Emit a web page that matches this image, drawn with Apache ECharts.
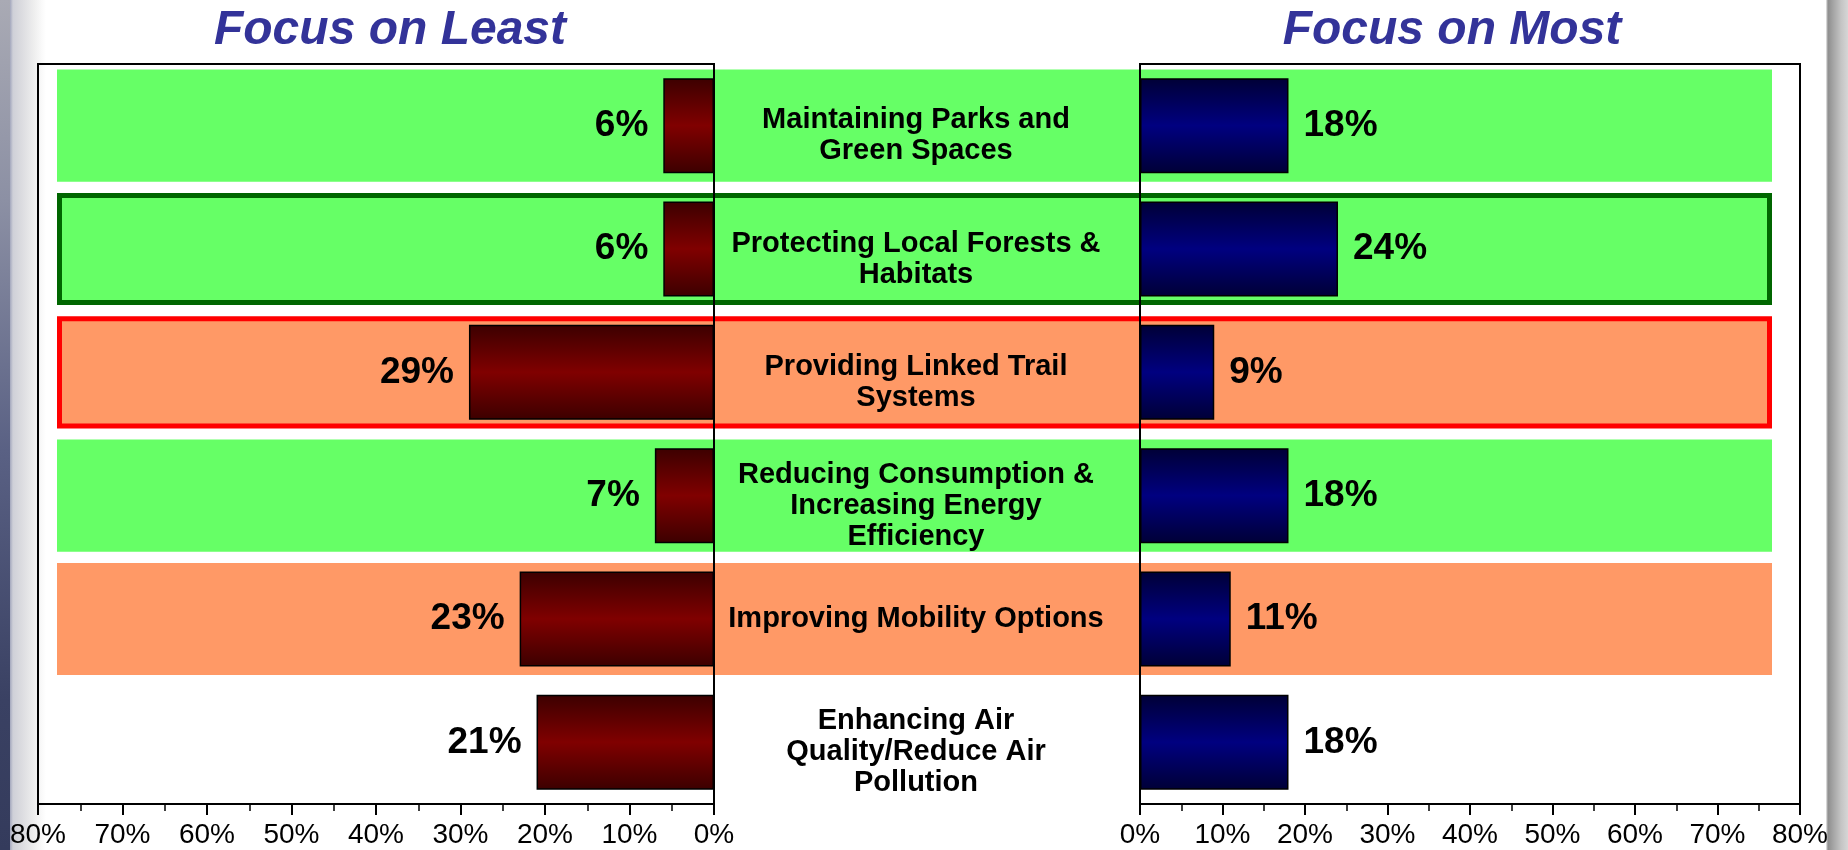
<!DOCTYPE html>
<html>
<head>
<meta charset="utf-8">
<script src="https://cdn.jsdelivr.net/npm/echarts@6/dist/echarts.min.js"></script>
<style>
  html, body { margin: 0; padding: 0; background: #ffffff; }
  #wrap { position: relative; width: 1848px; height: 850px; overflow: hidden; background: #ffffff; }
  #edgeDark { position: absolute; left: 0; top: 0; width: 10px; height: 850px;
    background: linear-gradient(to bottom, #a9aab4 0px, #8c90a4 200px, #5a6184 450px, #3a4163 700px, #343b5c 850px); }
  #edgeLight { position: absolute; left: 10px; top: 0; width: 36px; height: 850px;
    background: linear-gradient(to right, #a3a7bd 0px, #cfd0d8 3px, #dcdce0 12px, #eeeeee 24px, #fafafa 32px, #ffffff 36px); }
  #edgeRight { position: absolute; left: 1826px; top: 0; width: 22px; height: 850px;
    background: linear-gradient(to right, #eeeeee 0px, #8e8e8e 2px, #a4a4a4 7px, #c4c4c4 15px, #d6d6d6 22px); }
  #chart { position: absolute; left: 0; top: 0; width: 1848px; height: 850px; }
</style>
</head>
<body>
<div id="wrap">
  <div id="edgeDark"></div>
  <div id="edgeLight"></div>
  <div id="edgeRight"></div>
  <div id="chart"></div>
</div>
<script>
// ---- data ----
var categories = [
  'Maintaining Parks and\nGreen Spaces',
  'Protecting Local Forests &\nHabitats',
  'Providing Linked Trail\nSystems',
  'Reducing Consumption &\nIncreasing Energy\nEfficiency',
  'Improving Mobility Options',
  'Enhancing Air\nQuality/Reduce Air\nPollution'
];
var focusLeast = [6, 6, 29, 7, 23, 21];
var focusMost = [18, 24, 9, 18, 11, 18];
// row highlight: green / orange band, outlined or not, none
var rowHighlight = ['green', 'green-outlined', 'orange-outlined', 'green', 'orange', 'none'];
var panelTitles = ['Focus on Least', 'Focus on Most'];
var axisTicks = [0, 10, 20, 30, 40, 50, 60, 70, 80];

// ---- styles ----
var FONT = 'Liberation Sans, Arial, Helvetica, sans-serif';
var bandStyles = {
  'green': { color: '#66ff66', borderWidth: 0 },
  'green-outlined': { color: '#66ff66', borderColor: '#006600', borderWidth: 5 },
  'orange': { color: '#ff9966', borderWidth: 0 },
  'orange-outlined': { color: '#ff9966', borderColor: '#ff0000', borderWidth: 5 }
};
var bandData = rowHighlight.map(function (h) {
  if (h === 'none') return '-';
  return { value: 1, itemStyle: bandStyles[h] };
});

function vGrad(edge, mid) {
  return new echarts.graphic.LinearGradient(0, 0, 0, 1, [
    { offset: 0, color: edge },
    { offset: 0.5, color: mid },
    { offset: 1, color: edge }
  ]);
}

var axisMin = axisTicks[0], axisMax = axisTicks[axisTicks.length - 1];
var tickStep = axisTicks[1] - axisTicks[0];

function valueAxis(gridIndex, inverse) {
  return {
    type: 'value', gridIndex: gridIndex, min: axisMin, max: axisMax, interval: tickStep,
    inverse: inverse,
    axisLine: { show: true, lineStyle: { color: '#000', width: 2 } },
    axisTick: { show: true, length: 11, lineStyle: { color: '#000', width: 2 } },
    minorTick: { show: true, splitNumber: 2, length: 7, lineStyle: { color: '#000', width: 1.5 } },
    splitLine: { show: false },
    axisLabel: { show: true, formatter: '{value}%', fontFamily: FONT, fontSize: 28, color: '#000', margin: 17,
      showMinLabel: true, showMaxLabel: true }
  };
}

var chart = echarts.init(document.getElementById('chart'), null, { renderer: 'canvas' });
var option = {
  animation: false,
  backgroundColor: 'transparent',
  graphic: [
    { type: 'text', x: 390, y: 31, z: 10,
      style: { text: panelTitles[0], fill: '#333399', align: 'center', verticalAlign: 'middle',
        font: 'italic bold 48px ' + FONT } },
    { type: 'text', x: 1452, y: 31, z: 10,
      style: { text: panelTitles[1], fill: '#333399', align: 'center', verticalAlign: 'middle',
        font: 'italic bold 48px ' + FONT } }
  ],
  grid: [
    { left: 38, top: 64, width: 676, height: 740, show: true, borderColor: '#000', borderWidth: 2, backgroundColor: 'transparent' },
    { left: 1140, top: 64, width: 660, height: 740, show: true, borderColor: '#000', borderWidth: 2, backgroundColor: 'transparent' },
    { left: 57, top: 64, width: 1715, height: 740, show: false }
  ],
  xAxis: [
    valueAxis(0, true),
    valueAxis(1, false),
    { type: 'value', gridIndex: 2, min: 0, max: 1, show: false }
  ],
  yAxis: [
    { type: 'category', gridIndex: 0, data: categories, inverse: true, position: 'right',
      axisLine: { show: true, lineStyle: { color: '#000', width: 2 } },
      axisTick: { show: false }, axisLabel: { show: false }, splitLine: { show: false } },
    { type: 'category', gridIndex: 1, data: categories, inverse: true, position: 'left',
      axisLine: { show: true, lineStyle: { color: '#000', width: 2 } },
      axisTick: { show: false }, splitLine: { show: false },
      axisLabel: { show: true, interval: 0, align: 'center', margin: 224, fontFamily: FONT,
        fontSize: 29, fontWeight: 'bold', lineHeight: 31, color: '#000',
        formatter: function (v) { return v.indexOf('\n') >= 0 ? '{gap| }\n' + v : v; },
        rich: { gap: { lineHeight: 20, fontSize: 10 } } } },
    { type: 'category', gridIndex: 2, data: categories, inverse: true, show: false }
  ],
  series: [
    { name: 'bands', type: 'bar', xAxisIndex: 2, yAxisIndex: 2, data: bandData,
      barWidth: '91%', silent: true, z: -1, label: { show: false } },
    { name: panelTitles[0], type: 'bar', xAxisIndex: 0, yAxisIndex: 0, data: focusLeast,
      barWidth: 95, z: 3,
      itemStyle: { color: vGrad('#3c0000', '#800000'), borderColor: '#000', borderWidth: 1.5 },
      label: { show: true, position: 'left', distance: 15, formatter: '{c}%', fontFamily: FONT,
        fontSize: 37, fontWeight: 'bold', color: '#000' } },
    { name: panelTitles[1], type: 'bar', xAxisIndex: 1, yAxisIndex: 1, data: focusMost,
      barWidth: 95, z: 3,
      itemStyle: { color: vGrad('#000036', '#000080'), borderColor: '#000', borderWidth: 1.5 },
      label: { show: true, position: 'right', distance: 15, formatter: '{c}%', fontFamily: FONT,
        fontSize: 37, fontWeight: 'bold', color: '#000' } }
  ]
};
chart.setOption(option);
</script>
</body>
</html>
